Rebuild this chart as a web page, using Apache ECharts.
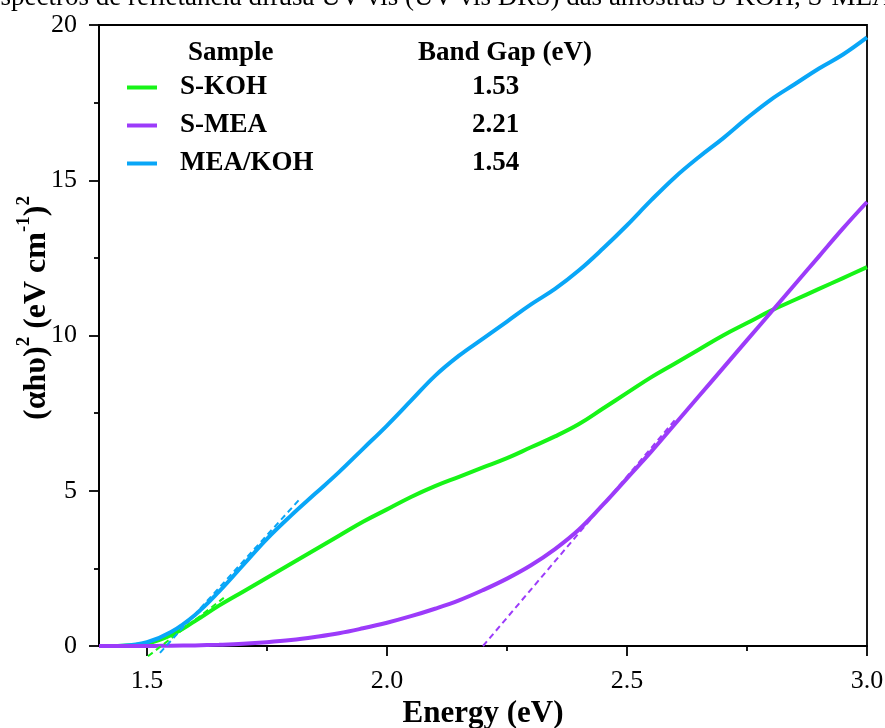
<!DOCTYPE html>
<html>
<head>
<meta charset="utf-8">
<script src="https://cdn.jsdelivr.net/npm/echarts@6/dist/echarts.min.js"></script>
<style>html,body{margin:0;padding:0;background:#fff;}#c{width:885px;height:728px;}</style>
</head>
<body>
<div id="c"></div>
<script>
const energy = [1.40,1.45,1.50,1.55,1.60,1.65,1.70,1.75,1.80,1.85,1.90,1.95,2.00,2.05,2.10,2.15,2.20,2.25,2.30,2.35,2.40,2.45,2.50,2.55,2.60,2.65,2.70,2.75,2.80,2.85,2.90,2.95,3.00];
const sKOH   = [0,0.01,0.08,0.35,0.8,1.3,1.75,2.2,2.65,3.1,3.55,4.0,4.4,4.8,5.15,5.45,5.75,6.05,6.4,6.75,7.15,7.65,8.15,8.65,9.1,9.55,10.0,10.4,10.8,11.15,11.5,11.85,12.2];
const sMEA   = [0,0,0,0.01,0.02,0.04,0.07,0.12,0.19,0.29,0.41,0.57,0.75,0.96,1.2,1.47,1.8,2.17,2.6,3.12,3.75,4.55,5.4,6.25,7.15,8.05,8.95,9.85,10.75,11.65,12.55,13.45,14.3];
const meaKOH = [0,0.01,0.12,0.45,1.0,1.75,2.6,3.45,4.2,4.9,5.6,6.35,7.1,7.9,8.7,9.35,9.9,10.45,11.0,11.5,12.1,12.8,13.55,14.35,15.1,15.75,16.35,17.0,17.6,18.1,18.6,19.05,19.6];
// tangent (Tauc) extrapolation lines: [x, y] end points
const tanKOH    = [[1.502,-0.33],[1.66,1.55]];
const tanMEA    = [[2.20,0],[2.60,7.28]];
const tanMEAKOH = [[1.527,-0.22],[1.82,4.76]];
const sampleNames = ['S-KOH','S-MEA','MEA/KOH'];
const bandGaps = ['1.53','2.21','1.54'];
const xLabelVals = [1.5,2.0,2.5,3.0];
const xMinorVals = [1.75,2.25,2.75];

const colors = {'S-KOH':'#17F417','S-MEA':'#9C3BFA','MEA/KOH':'#09A6F7'};
const serif = 'Liberation Serif, Times New Roman, serif';
const pair = (xs, ys) => xs.map((x,i)=>[x, ys[i]]);
const gapOf = {}; sampleNames.forEach((n,i)=>gapOf[n]=bandGaps[i]);

const chart = echarts.init(document.getElementById('c'));
const mainLine = (name, ys) => ({
  name, type:'line', data: pair(energy, ys), smooth:0.4, symbol:'none',
  lineStyle:{width:4, color:colors[name]}, itemStyle:{color:colors[name]}
});
const tanLine = (name, pts) => ({
  name, type:'line', data: pts, symbol:'none', clip:false, silent:true,
  lineStyle:{width:2, type:[6,4], color:colors[name]}, itemStyle:{color:colors[name]}
});
chart.setOption({
  animation:false,
  backgroundColor:'#fff',
  grid:{left:99, right:18, top:25, bottom:82, outerBoundsMode:'none', containLabel:false,
        show:true, borderColor:'#000', borderWidth:1.8, backgroundColor:'transparent'},
  legend:{
    data: sampleNames, orient:'vertical', left:127, top:74, padding:0, itemGap:11,
    itemWidth:30, itemHeight:4, icon:'rect',
    formatter: n => '{n|'+n+'}{v|'+gapOf[n]+'}',
    textStyle:{
      rich:{
        n:{fontFamily:serif, fontWeight:'bold', fontSize:27, color:'#000', lineHeight:30, width:292, padding:[0,0,0,18]},
        v:{fontFamily:serif, fontWeight:'bold', fontSize:27, color:'#000', lineHeight:30}
      }
    }
  },
  xAxis:[{
    type:'value', min:1.4, max:3.0,
    axisLine:{lineStyle:{color:'#000', width:1.8}},
    axisTick:{customValues:xLabelVals, length:10, lineStyle:{color:'#000', width:1.8}},
    axisLabel:{customValues:xLabelVals, formatter:v=>v.toFixed(1), margin:22, color:'#000', fontFamily:serif, fontSize:26},
    splitLine:{show:false},
    name:'Energy (eV)', nameLocation:'middle', nameGap:52,
    nameTextStyle:{fontFamily:serif, fontWeight:'bold', fontSize:31, color:'#000'}
  },{
    type:'value', min:1.4, max:3.0, position:'bottom',
    axisLine:{show:false},
    axisTick:{customValues:xMinorVals, length:5, lineStyle:{color:'#000', width:1.8}},
    axisLabel:{show:false}, splitLine:{show:false}
  }],
  yAxis:{
    type:'value', min:0, max:20, interval:5,
    axisLine:{show:true, lineStyle:{color:'#000', width:1.8}},
    axisTick:{show:true, length:10, lineStyle:{color:'#000', width:1.8}},
    minorTick:{show:true, splitNumber:2, length:5, lineStyle:{color:'#000', width:1.8}},
    axisLabel:{margin:22, color:'#000', fontFamily:serif, fontSize:26},
    splitLine:{show:false}
  },
  graphic:[
    {type:'text', left:-16, top:-16, style:{text:'Espectros de refletância difusa UV-vis (UV-vis DRS) das amostras S-KOH, S-MEA e MEA/KOH', font:'27px '+serif, fill:'#000'}},
    {type:'text', x:188, y:53, style:{text:'Sample', font:'bold 27px '+serif, fill:'#000', verticalAlign:'middle'}},
    {type:'text', x:418, y:53, style:{text:'Band Gap (eV)', font:'bold 27px '+serif, fill:'#000', verticalAlign:'middle'}},
    {type:'text', x:34, y:308, rotation:Math.PI/2, style:{
      text:'{m|(αhυ)}{s|2}{m| (eV cm}{s|-1}{m|)}{s|2}', align:'center', verticalAlign:'middle',
      rich:{
        m:{fontFamily:serif, fontWeight:'bold', fontSize:32, fill:'#000', lineHeight:38, verticalAlign:'bottom'},
        s:{fontFamily:serif, fontWeight:'bold', fontSize:19, fill:'#000', lineHeight:38, verticalAlign:'top'}
      }
    }}
  ],
  series:[
    mainLine('S-KOH', sKOH),
    mainLine('MEA/KOH', meaKOH),
    mainLine('S-MEA', sMEA),
    tanLine('S-KOH', tanKOH),
    tanLine('MEA/KOH', tanMEAKOH),
    tanLine('S-MEA', tanMEA)
  ]
});
</script>
</body>
</html>
